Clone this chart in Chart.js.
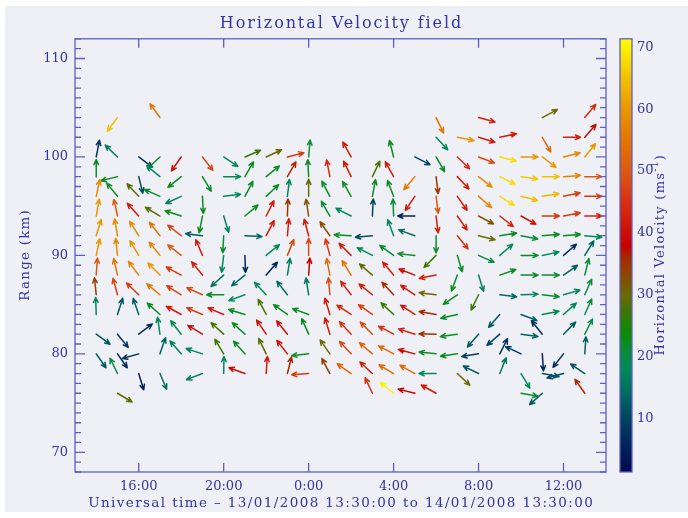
<!DOCTYPE html>
<html>
<head>
<meta charset="utf-8">
<script src="https://cdn.jsdelivr.net/npm/chart.js@4.4.1/dist/chart.umd.min.js"></script>
<style>
  html, body { margin: 0; padding: 0; background: #fff; }
  #chart { display: block; }
</style>
</head>
<body>
<canvas id="chart" width="688" height="518"></canvas>
<script>
// Horizontal velocity field: arrows at (hour, range), direction in compass degrees, speed in m/s

const hours     = [14, 15, 16, 17, 18, 19, 20, 21, 22, 23, 24, 25, 26, 27, 28, 29, 30, 31, 32, 33, 34, 35, 36, 37];
const rowRanges = [104, 102, 100, 98, 96, 94, 92, 90, 88, 86, 84, 82, 80, 78, 76];

const xTickHours = [16, 20, 24, 28, 32, 36];
const yTickKm    = [70, 80, 90, 100, 110];
const cbTicks    = [10, 20, 30, 40, 50, 60, 70];

const _ = null;
const rowDirs = [
    [_, 217, _, 324, _, _, _, _, _, _, _, _, _, _, _, _, 154, _, 105, _, _, 62, _, 40],
    [_, _, _, _, _, _, _, _, _, _, _, _, _, _, _, _, 137, 101, 107, 78, _, 150, 90, 41],
    [11, 314, 127, 227, 215, 142, 124, 67, 65, 76, 5, _, 331, _, 346, 117, 150, 134, 111, 104, 90, 127, 76, 39],
    [0, 256, 166, 309, 231, 149, 90, 30, 51, 30, 357, 349, 334, 26, 331, 220, 173, 137, 128, 116, 98, 90, 86, 90],
    [12, 321, 317, 294, 245, 177, 83, 28, 47, 7, 0, 332, 330, 11, 339, 214, 173, 145, 131, 122, 104, 81, 78, 90],
    [10, 348, 318, 301, 288, 191, 163, 50, 27, 2, 351, 330, 297, 3, 358, 270, 173, 145, 118, 128, 119, 90, 79, 90],
    [17, 350, 328, 322, 308, 277, 183, 93, 28, 5, 345, 325, 273, 265, 340, 290, 180, 141, 104, 81, 101, 85, 85, 95],
    [12, 354, 329, 321, 308, 337, 187, 178, 51, 22, 0, 345, 315, 297, 306, 276, 225, 163, 114, 49, 90, 78, 49, 32],
    [4, 347, 323, 315, 298, 321, 228, 231, 41, 9, 4, 349, 328, 311, 320, 291, 259, 200, 163, 71, 90, 90, 55, 14],
    [354, 345, 314, 310, 302, 294, 270, 250, 317, 322, 351, 355, 322, 309, 317, 304, 277, 236, 206, 97, 88, 97, 74, 24],
    [358, 18, 341, 312, 299, 293, 293, 287, 332, 305, 290, 343, 303, 305, 313, 303, 280, 257, _, 221, 111, 79, 48, 24],
    [126, 141, 53, 352, 322, 301, 312, 312, 326, 321, 336, 343, 317, 315, 298, 288, 271, 262, 221, 229, 98, 321, 45, 27],
    [145, 145, 254, 19, 319, 288, 329, 318, 334, 322, 264, 325, 317, 311, 298, 285, 276, 262, 261, 27, 295, 176, 218, 4],
    [_, 334, 163, 157, _, 249, 1, 290, 4, 14, 266, 332, 305, 313, 301, 299, 270, 133, 296, 22, 149, 100, 255, 304],
    [_, 121, _, _, _, _, _, _, _, _, _, _, _, 335, 309, 284, 299, _, _, _, 100, 228, _, 325],
];
const rowSpeeds = [
    [_, 65, _, 55, _, _, _, _, _, _, _, _, _, _, _, _, 55, _, 43, _, _, 30, _, 44],
    [_, _, _, _, _, _, _, _, _, _, _, _, _, _, _, _, 18, 60, 42, 42, _, 53, 43, 37],
    [8, 17, 8, 22, 40, 47, 18, 27, 30, 46, 21, _, 42, _, 22, 10, 22, 44, 48, 68, 60, 60, 58, 60],
    [22, 22, 10, 18, 22, 22, 18, 22, 22, 36, 22, 44, 42, 28, 42, 55, 35, 42, 58, 68, 66, 65, 57, 50],
    [58, 22, 29, 22, 17, 22, 18, 22, 22, 18, 30, 22, 22, 22, 22, 41, 50, 42, 57, 68, 65, 64, 47, 46],
    [60, 50, 42, 29, 22, 22, 17, 22, 42, 35, 32, 21, 18, 10, 21, 6, 42, 42, 32, 43, 41, 46, 46, 43],
    [60, 58, 58, 55, 48, 12, 22, 13, 42, 42, 42, 33, 22, 11, 18, 14, 22, 45, 30, 22, 20, 22, 22, 18],
    [60, 58, 60, 57, 50, 42, 18, 7, 18, 48, 48, 46, 43, 19, 21, 22, 27, 22, 20, 18, 22, 18, 7, 14],
    [50, 55, 57, 60, 46, 42, 15, 14, 6, 17, 38, 53, 55, 30, 42, 40, 43, 22, 17, 22, 22, 21, 13, 21],
    [34, 47, 46, 55, 47, 48, 22, 18, 18, 14, 16, 48, 43, 42, 36, 42, 31, 22, 27, 14, 17, 21, 18, 20],
    [18, 12, 13, 22, 42, 46, 42, 22, 28, 22, 22, 42, 44, 47, 27, 42, 36, 22, _, 12, 13, 18, 18, 20],
    [12, 8, 7, 18, 19, 40, 28, 22, 40, 40, 22, 42, 45, 48, 45, 43, 35, 22, 12, 10, 13, 7, 13, 20],
    [12, 6, 8, 13, 17, 17, 27, 22, 29, 41, 22, 30, 48, 52, 53, 40, 22, 22, 9, 8, 9, 6, 7, 13],
    [_, 20, 6, 15, _, 17, 18, 40, 42, 36, 46, 34, 52, 42, 53, 53, 18, 30, 12, 16, 18, 12, 11, 12],
    [_, 29, _, _, _, _, _, _, _, _, _, _, _, 45, 70, 38, 42, _, _, _, 21, 12, _, 36],
];

// colour table of the velocity bar
const cbStopValues = [1.3, 6, 10, 14, 18, 21, 24, 27, 30, 33, 36, 38, 45, 50, 55, 60, 65, 71.4];
const cbStopColors = ['#000a4c', '#00255a', '#004560', '#006a60', '#008a5a', '#0a8c35', '#0c8c00', '#3a7800',
                      '#6a6a00', '#8a4a00', '#a82800', '#c80000', '#d83010', '#dc5a10', '#e27500', '#e89800',
                      '#f2c000', '#ffff00'];

const TEXT  = '#3434a4';
const FRAME = '#5e5ec6';
const FONT  = '"DejaVu Serif", "Liberation Serif", serif';
const ARROW_LEN = 17;

function hexRgb(h) { return [1, 3, 5].map(i => parseInt(h.slice(i, i + 2), 16)); }

function colorFor(v) {
    if (v <= cbStopValues[0]) return cbStopColors[0];
    for (let i = 1; i < cbStopValues.length; i++) {
        if (v <= cbStopValues[i]) {
            const t = (v - cbStopValues[i - 1]) / (cbStopValues[i] - cbStopValues[i - 1]);
            const a = hexRgb(cbStopColors[i - 1]), b = hexRgb(cbStopColors[i]);
            const c = a.map((x, k) => Math.round(x + (b[k] - x) * t));
            return `rgb(${c[0]},${c[1]},${c[2]})`;
        }
    }
    return cbStopColors[cbStopColors.length - 1];
}

const vectors = [];
rowRanges.forEach((r, ri) => {
    hours.forEach((h, hi) => {
        const dir = rowDirs[ri][hi];
        if (dir === null) return;
        vectors.push({ x: h, y: r, dir, spd: rowSpeeds[ri][hi] });
    });
});

function drawArrow(ctx, x, y, deg, color) {
    const a  = deg * Math.PI / 180;
    const ux = Math.sin(a), uy = -Math.cos(a);
    const hx = x + ARROW_LEN * ux, hy = y + ARROW_LEN * uy;
    const back = Math.atan2(-uy, -ux);
    ctx.strokeStyle = color;
    ctx.lineWidth = 1.5;
    ctx.beginPath();
    ctx.moveTo(x, y);
    ctx.lineTo(hx, hy);
    [-0.42, 0.42].forEach(s => {
        ctx.moveTo(hx, hy);
        ctx.lineTo(hx + 5.5 * Math.cos(back + s), hy + 5.5 * Math.sin(back + s));
    });
    ctx.stroke();
}

// text with extra letter spacing, centred on (x, y), optionally rotated
function spacedText(ctx, parts, x, y, spacing, rot) {
    ctx.save();
    ctx.translate(x, y);
    if (rot) ctx.rotate(rot);
    ctx.letterSpacing = spacing + 'px';
    ctx.textAlign = 'left';
    ctx.textBaseline = 'middle';
    const widths = parts.map(p => { ctx.font = p.font; return ctx.measureText(p.text).width; });
    let cx = -(widths.reduce((a, b) => a + b, 0) - spacing) / 2;
    parts.forEach((p, i) => {
        ctx.font = p.font;
        ctx.fillText(p.text, cx, p.dy || 0);
        cx += widths[i];
    });
    ctx.restore();
}

const background = {
    id: 'background',
    beforeDraw(chart) {
        const ctx = chart.ctx;
        ctx.save();
        ctx.fillStyle = '#ffffff';
        ctx.fillRect(0, 0, chart.width, chart.height);
        ctx.fillStyle = '#eff0f6';
        ctx.fillRect(5, 6, chart.width - 5, 506);
        ctx.restore();
    },
};

const arrows = {
    id: 'arrows',
    afterDatasetsDraw(chart) {
        const ctx = chart.ctx;
        const meta = chart.getDatasetMeta(0);
        ctx.save();
        ctx.lineCap = 'round';
        meta.data.forEach((pt, i) => {
            const d = vectors[i];
            drawArrow(ctx, pt.x, pt.y, d.dir, colorFor(d.spd));
        });
        ctx.restore();
    },
};

const frame = {
    id: 'frame',
    afterDraw(chart) {
        const { ctx, chartArea: ca, scales: { x, y, cb } } = chart;
        ctx.save();
        ctx.strokeStyle = FRAME;
        ctx.lineWidth = 1.3;
        ctx.strokeRect(ca.left, ca.top, ca.right - ca.left, ca.bottom - ca.top);

        // inward ticks
        ctx.beginPath();
        xTickHours.forEach(h => {
            const px = x.getPixelForValue(h);
            ctx.moveTo(px, ca.bottom); ctx.lineTo(px, ca.bottom - 9);
            ctx.moveTo(px, ca.top);    ctx.lineTo(px, ca.top + 9);
        });
        for (let r = Math.ceil(y.min); r <= y.max; r++) {
            const py = y.getPixelForValue(r);
            const len = yTickKm.includes(r) ? 10 : 6;
            ctx.moveTo(ca.left, py);  ctx.lineTo(ca.left + len, py);
            ctx.moveTo(ca.right, py); ctx.lineTo(ca.right - len, py);
        }
        ctx.stroke();

        // colour bar
        const top = cb.getPixelForValue(cb.max), bot = cb.getPixelForValue(cb.min);
        const grad = ctx.createLinearGradient(0, bot, 0, top);
        cbStopValues.forEach((v, i) => grad.addColorStop((v - cb.min) / (cb.max - cb.min), cbStopColors[i]));
        ctx.fillStyle = grad;
        ctx.fillRect(620, top, 12, bot - top);
        ctx.strokeRect(620, top, 12, bot - top);

        // titles
        ctx.fillStyle = TEXT;
        const f = s => s + 'px ' + FONT;
        spacedText(ctx, [{ text: 'Horizontal Velocity field', font: f(16) }], (ca.left + ca.right) / 2, 24, 1.9);
        spacedText(ctx, [{ text: 'Universal time \u2013 13/01/2008 13:30:00 to 14/01/2008 13:30:00', font: f(13.5) }],
                   (ca.left + ca.right) / 2, 503, 1.4);
        spacedText(ctx, [{ text: 'Range (km)', font: f(13.5) }], 25, (ca.top + ca.bottom) / 2, 1.2, -Math.PI / 2);
        spacedText(ctx, [
            { text: 'Horizontal Velocity (ms', font: f(13) },
            { text: '-1', font: f(9), dy: -5 },
            { text: ')', font: f(13) },
        ], 661, (top + bot) / 2, 1.3, -Math.PI / 2);
        ctx.restore();
    },
};

new Chart(document.getElementById('chart'), {
    type: 'scatter',
    data: {
        datasets: [{
            data: vectors,
            pointRadius: 0,
            pointHoverRadius: 0,
        }],
    },
    options: {
        responsive: false,
        animation: false,
        devicePixelRatio: 1,
        events: [],
        layout: { padding: { left: 0, right: 0, top: 38, bottom: 0 } },
        plugins: { legend: { display: false }, tooltip: { enabled: false } },
        scales: {
            x: {
                type: 'linear', min: 13, max: 38,
                afterBuildTicks(s) { s.ticks = xTickHours.map(v => ({ value: v })); },
                afterFit(s) { s.height = 46; },
                grid: { display: false, drawTicks: false },
                border: { display: false },
                ticks: {
                    color: TEXT, font: { family: FONT, size: 13 }, padding: 7,
                    maxRotation: 0, autoSkip: false,
                    callback: v => (v % 24) + ':00',
                },
            },
            y: {
                type: 'linear', min: 68, max: 112, position: 'left',
                afterBuildTicks(s) { s.ticks = yTickKm.map(v => ({ value: v })); },
                afterFit(s) { s.width = 75; },
                grid: { display: false, drawTicks: false },
                border: { display: false },
                ticks: { color: TEXT, font: { family: FONT, size: 13 }, padding: 7, autoSkip: false },
            },
            cb: {
                axis: 'y', type: 'linear', min: 1.3, max: 71.4, position: 'right',
                afterBuildTicks(s) { s.ticks = cbTicks.map(v => ({ value: v })); },
                afterFit(s) { s.width = 82; },
                grid: { display: false, drawTicks: false },
                border: { display: false },
                ticks: { color: TEXT, font: { family: FONT, size: 13 }, padding: 31, autoSkip: false },
            },
        },
    },
    plugins: [background, arrows, frame],
});
</script>
</body>
</html>
